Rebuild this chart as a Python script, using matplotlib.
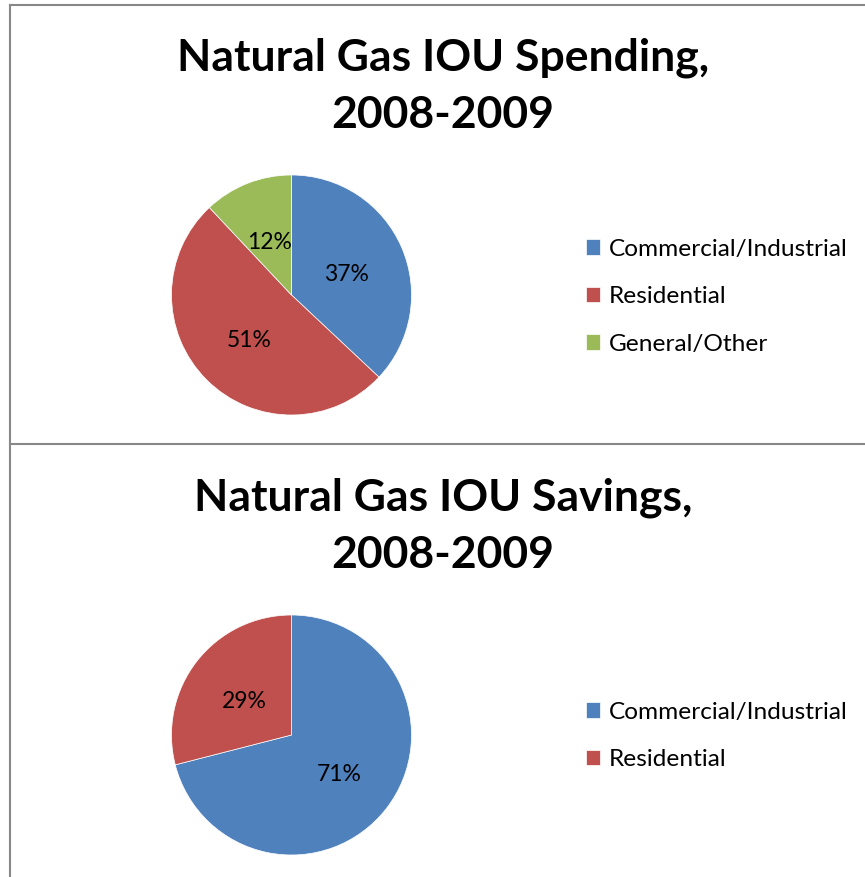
import matplotlib.pyplot as plt
from matplotlib.lines import Line2D

# data
spend_labels = ['Commercial/Industrial', 'Residential', 'General/Other']
spend_values = [37, 51, 12]
save_labels = ['Commercial/Industrial', 'Residential']
save_values = [71, 29]
colors = ['#4F81BD', '#C0504D', '#9BBB59']

W, H = 865, 877
plt.rcParams['font.family'] = ['Lato', 'DejaVu Sans']

fig = plt.figure(figsize=(W / 100, H / 100), dpi=100)


def px_axes(cx, cy, r):
    # cx, cy in image pixels (y from top)
    return fig.add_axes([(cx - r) / W, (H - cy - r) / H, 2 * r / W, 2 * r / H])


def draw_panel(cy_title, title, pie_cy, labels, values, leg_y):
    fig.text(443 / W, 1 - cy_title / H, title, ha='center', va='center',
             fontsize=32, fontweight='bold', linespacing=1.5)
    ax = px_axes(291.5, pie_cy, 120)
    wedges, _, autotexts = ax.pie(values, colors=colors[:len(values)], startangle=90,
                                  counterclock=False, radius=1, autopct='%d%%',
                                  pctdistance=0.5,
                                  wedgeprops=dict(edgecolor='white', linewidth=0.5),
                                  textprops=dict(fontsize=16.5, color='black'))
    # labels sit a touch lower in the original
    for t in autotexts:
        x, y = t.get_position()
        t.set_position((x, y - 0.025))
    ax.set_xlim(-1, 1)
    ax.set_ylim(-1, 1)
    ax.set_aspect('equal')
    ax.legend(wedges, labels, loc='upper left', frameon=False,
              bbox_to_anchor=(576 / W, 1 - leg_y / H), bbox_transform=fig.transFigure,
              fontsize=17.6, handlelength=0.6, handleheight=0.6, handletextpad=0.35,
              labelspacing=1.08, borderaxespad=0)


draw_panel(86, 'Natural Gas IOU Spending,\n2008-2009', 295, spend_labels, spend_values, 229)
draw_panel(526, 'Natural Gas IOU Savings,\n2008-2009', 735, save_labels, save_values, 692)

# panel borders
gray = '#888888'
lw = 1.5
for xs, ys in [([10, W], [5, 5]), ([10, 10], [5, H]), ([10, W], [444, 444])]:
    fig.add_artist(Line2D([x / W for x in xs], [1 - y / H for y in ys],
                          color=gray, linewidth=lw, transform=fig.transFigure))

fig.savefig('out.png', dpi=100)
